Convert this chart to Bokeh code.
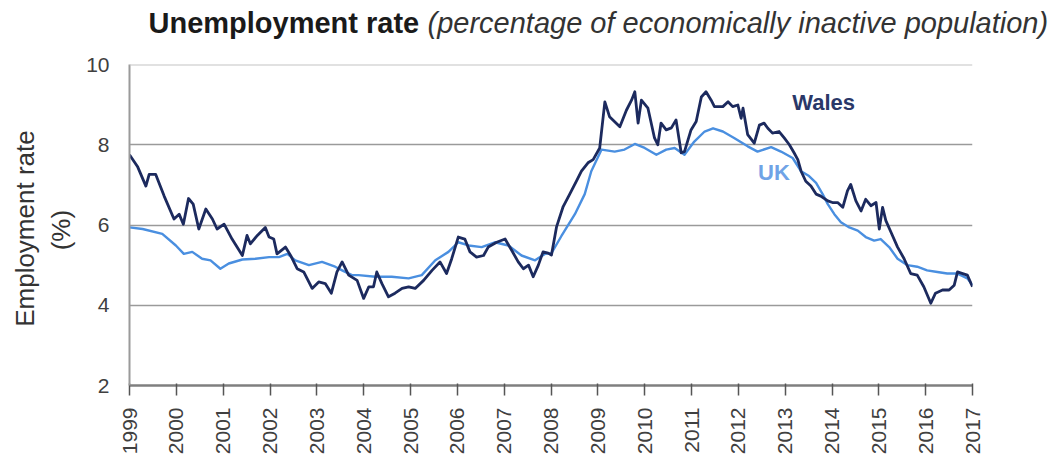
import math
from bokeh.plotting import figure
from bokeh.models import Range1d, Label, Span, FixedTicker
from bokeh.layouts import column, row
from bokeh.core.properties import value
from bokeh.embed import file_html
from bokeh.resources import INLINE

# ---- data ----
wales_year = [1999.00, 1999.17, 1999.35, 1999.42, 1999.56, 1999.74, 1999.95, 2000.06, 2000.15, 2000.26,
              2000.36, 2000.48, 2000.63, 2000.77, 2000.87, 2001.02, 2001.19, 2001.41, 2001.51, 2001.58,
              2001.73, 2001.90, 2001.98, 2002.08, 2002.15, 2002.33, 2002.44, 2002.58, 2002.72, 2002.90,
              2003.04, 2003.18, 2003.31, 2003.43, 2003.54, 2003.68, 2003.86, 2004.00, 2004.11, 2004.21,
              2004.28, 2004.39, 2004.53, 2004.67, 2004.82, 2004.96, 2005.10, 2005.28, 2005.46, 2005.63,
              2005.77, 2005.88, 2006.02, 2006.16, 2006.27, 2006.41, 2006.56, 2006.66, 2006.84, 2007.02,
              2007.16, 2007.30, 2007.41, 2007.52, 2007.62, 2007.73, 2007.83, 2007.94, 2008.01, 2008.12,
              2008.26, 2008.40, 2008.54, 2008.65, 2008.79, 2008.90, 2009.04, 2009.15, 2009.25, 2009.47,
              2009.61, 2009.72, 2009.79, 2009.86, 2009.93, 2010.07, 2010.21, 2010.28, 2010.35, 2010.46,
              2010.57, 2010.67, 2010.78, 2010.85, 2010.99, 2011.10, 2011.21, 2011.31, 2011.42, 2011.49,
              2011.67, 2011.78, 2011.88, 2011.99, 2012.06, 2012.10, 2012.20, 2012.34, 2012.45, 2012.55,
              2012.63, 2012.73, 2012.87, 2012.98, 2013.09, 2013.19, 2013.27, 2013.34, 2013.44, 2013.55,
              2013.66, 2013.76, 2013.91, 2014.01, 2014.12, 2014.23, 2014.33, 2014.40, 2014.51, 2014.62,
              2014.72, 2014.83, 2014.94, 2015.01, 2015.08, 2015.15, 2015.26, 2015.40, 2015.54, 2015.68,
              2015.82, 2015.96, 2016.11, 2016.21, 2016.36, 2016.50, 2016.61, 2016.68, 2016.79, 2016.89,
              2017.00]
wales_rate = [7.75, 7.46, 6.97, 7.26, 7.26, 6.72, 6.15, 6.27, 6.02, 6.66,
              6.52, 5.90, 6.40, 6.15, 5.90, 6.02, 5.65, 5.24, 5.74, 5.53,
              5.74, 5.94, 5.70, 5.65, 5.28, 5.45, 5.24, 4.91, 4.83, 4.42,
              4.58, 4.54, 4.30, 4.83, 5.08, 4.75, 4.62, 4.17, 4.46, 4.46,
              4.83, 4.54, 4.21, 4.30, 4.42, 4.46, 4.42, 4.62, 4.87, 5.08,
              4.79, 5.16, 5.70, 5.65, 5.33, 5.20, 5.24, 5.45, 5.57, 5.65,
              5.37, 5.08, 4.91, 5.00, 4.71, 5.00, 5.33, 5.30, 5.25, 5.96,
              6.46, 6.77, 7.09, 7.34, 7.55, 7.63, 7.92, 9.07, 8.70, 8.45,
              8.86, 9.11, 9.32, 8.54, 9.11, 8.91, 8.17, 8.00, 8.54, 8.37,
              8.42, 8.62, 7.80, 7.83, 8.37, 8.58, 9.19, 9.32, 9.11, 8.95,
              8.95, 9.07, 8.95, 8.99, 8.66, 8.91, 8.25, 8.04, 8.49, 8.54,
              8.41, 8.29, 8.33, 8.17, 8.00, 7.80, 7.63, 7.34, 7.09, 6.97,
              6.77, 6.72, 6.60, 6.56, 6.56, 6.44, 6.85, 7.01, 6.60, 6.35,
              6.64, 6.48, 6.56, 5.90, 6.44, 6.11, 5.82, 5.45, 5.16, 4.79,
              4.75, 4.46, 4.05, 4.30, 4.38, 4.38, 4.50, 4.83, 4.79, 4.75,
              4.46]

uk_year = [1999.00, 1999.28, 1999.70, 1999.99, 2000.16, 2000.34, 2000.55, 2000.73, 2000.94, 2001.12,
           2001.41, 2001.69, 2001.98, 2002.19, 2002.37, 2002.54, 2002.83, 2003.11, 2003.39, 2003.54,
           2003.75, 2003.89, 2004.25, 2004.60, 2004.96, 2005.24, 2005.53, 2005.81, 2006.02, 2006.24,
           2006.52, 2006.80, 2007.09, 2007.37, 2007.66, 2007.87, 2008.01, 2008.22, 2008.51, 2008.72,
           2008.86, 2009.08, 2009.36, 2009.57, 2009.79, 2010.00, 2010.25, 2010.46, 2010.64, 2010.85,
           2011.06, 2011.28, 2011.46, 2011.67, 2011.91, 2012.20, 2012.41, 2012.70, 2012.91, 2013.16,
           2013.34, 2013.51, 2013.66, 2013.80, 2013.91, 2014.05, 2014.19, 2014.37, 2014.55, 2014.72,
           2014.90, 2015.04, 2015.22, 2015.40, 2015.61, 2015.82, 2016.03, 2016.25, 2016.46, 2016.68,
           2016.89, 2017.00]
uk_rate = [5.94, 5.90, 5.78, 5.49, 5.28, 5.33, 5.16, 5.12, 4.91, 5.04,
           5.14, 5.16, 5.20, 5.20, 5.28, 5.12, 5.00, 5.08, 4.96, 4.87,
           4.75, 4.75, 4.71, 4.71, 4.67, 4.75, 5.12, 5.33, 5.57, 5.49,
           5.45, 5.57, 5.49, 5.24, 5.12, 5.28, 5.30, 5.72, 6.27, 6.77,
           7.34, 7.88, 7.83, 7.88, 8.02, 7.92, 7.75, 7.88, 7.92, 7.75,
           8.08, 8.33, 8.41, 8.33, 8.17, 7.96, 7.83, 7.94, 7.83, 7.67,
           7.34, 7.22, 7.05, 6.77, 6.52, 6.27, 6.07, 5.94, 5.86, 5.70,
           5.61, 5.65, 5.45, 5.16, 5.00, 4.96, 4.87, 4.83, 4.79, 4.79,
           4.67, 4.50]

x_ticks = list(range(1999, 2018))
y_ticks = [2, 4, 6, 8, 10]

title_bold = "Unemployment rate"
title_italic = "(percentage of economically inactive population)"
y_label_1 = "Employment rate"
y_label_2 = "(%)"

WALES_C = "#1c2a5e"
UK_C = "#4a8fe0"
FONT = "Liberation Sans"
TXT_C = "#404040"

W, H = 1060, 457
HEAD_H = 52
STRIP_W = 83


def blank(width, height):
    f = figure(width=width, height=height, x_range=Range1d(0, width), y_range=Range1d(0, height),
               output_backend="svg", toolbar_location=None, x_axis_type=None, y_axis_type=None,
               min_border=0, min_border_left=0, min_border_right=0, min_border_top=0,
               min_border_bottom=0)
    f.title = None
    f.outline_line_color = None
    f.xgrid.visible = False
    f.ygrid.visible = False
    return f


# ---- header with two-style title ----
head = blank(W, HEAD_H)
head.text(x=[148], y=[30], text=[title_bold], text_font=value(FONT),
          text_font_size=value("29px"), text_font_style=value("bold"), text_color="#1a1a1a",
          text_baseline=value("alphabetic"), text_align=value("left"))
head.text(x=[427], y=[30], text=[title_italic], text_font=value(FONT),
          text_font_size=value("29px"), text_font_style=value("italic"), text_color="#333333",
          text_baseline=value("alphabetic"), text_align=value("left"))

# ---- left strip with two-line y-axis title ----
PH = H - HEAD_H
strip = blank(STRIP_W, PH)
strip.text(x=[24], y=[198], text=[y_label_1], angle=math.pi / 2, text_font=value(FONT),
           text_font_size=value("26px"), text_color="#333333",
           text_align=value("center"), text_baseline=value("middle"))
strip.text(x=[60], y=[196], text=[y_label_2], angle=math.pi / 2, text_font=value(FONT),
           text_font_size=value("26px"), text_color="#333333",
           text_align=value("center"), text_baseline=value("middle"))

# ---- main chart ----
p = figure(width=W - STRIP_W, height=PH,
           x_range=Range1d(1999, 2017), y_range=Range1d(2, 10),
           output_backend="svg", toolbar_location=None,
           min_border_left=127 - STRIP_W, min_border_right=W - 972,
           min_border_top=64 - HEAD_H, min_border_bottom=H - 388)
p.title = None
p.outline_line_color = None

p.xaxis.ticker = FixedTicker(ticks=x_ticks)
p.xaxis.major_label_orientation = math.pi / 2
p.xaxis.major_label_text_font = FONT
p.xaxis.major_label_text_font_size = "21px"
p.xaxis.major_label_text_color = TXT_C
p.xaxis.axis_line_color = "#7f7f7f"
p.xaxis.axis_line_width = 2.5
p.xaxis.major_tick_out = 10
p.xaxis.major_tick_in = 2
p.xaxis.major_tick_line_color = "#555555"
p.xaxis.major_tick_line_width = 1.5
p.xaxis.minor_tick_line_color = None
p.xaxis.major_label_standoff = 12

p.yaxis.ticker = FixedTicker(ticks=y_ticks)
p.yaxis.major_label_text_font = FONT
p.yaxis.major_label_text_font_size = "21px"
p.yaxis.major_label_text_color = TXT_C
p.yaxis.axis_line_color = "#9a9a9a"
p.yaxis.axis_line_width = 2
p.yaxis.major_tick_out = 0
p.yaxis.major_tick_in = 0
p.yaxis.minor_tick_line_color = None
p.yaxis.major_label_standoff = 20

p.xgrid.visible = False
p.ygrid.ticker = FixedTicker(ticks=[4, 6, 8])
p.ygrid.grid_line_color = "#9a9a9a"
p.ygrid.grid_line_width = 1.3
p.add_layout(Span(location=10, dimension="width", line_color="#c4c4c4", line_width=2))

p.line(uk_year, uk_rate, line_color=UK_C, line_width=2.4, line_join="round")
p.line(wales_year, wales_rate, line_color=WALES_C, line_width=2.8, line_join="round")

p.add_layout(Label(x=2013.15, y=9.06, text="Wales", text_font=FONT, text_font_size="22px",
                   text_font_style="bold", text_color="#2a3868", text_baseline="alphabetic"))
p.add_layout(Label(x=2012.42, y=7.31, text="UK", text_font=FONT, text_font_size="22px",
                   text_font_style="bold", text_color="#6fa3e6", text_baseline="alphabetic"))

layout = column(head, row(strip, p, spacing=0), spacing=0)
open("out.html", "w").write(file_html(layout, INLINE))
